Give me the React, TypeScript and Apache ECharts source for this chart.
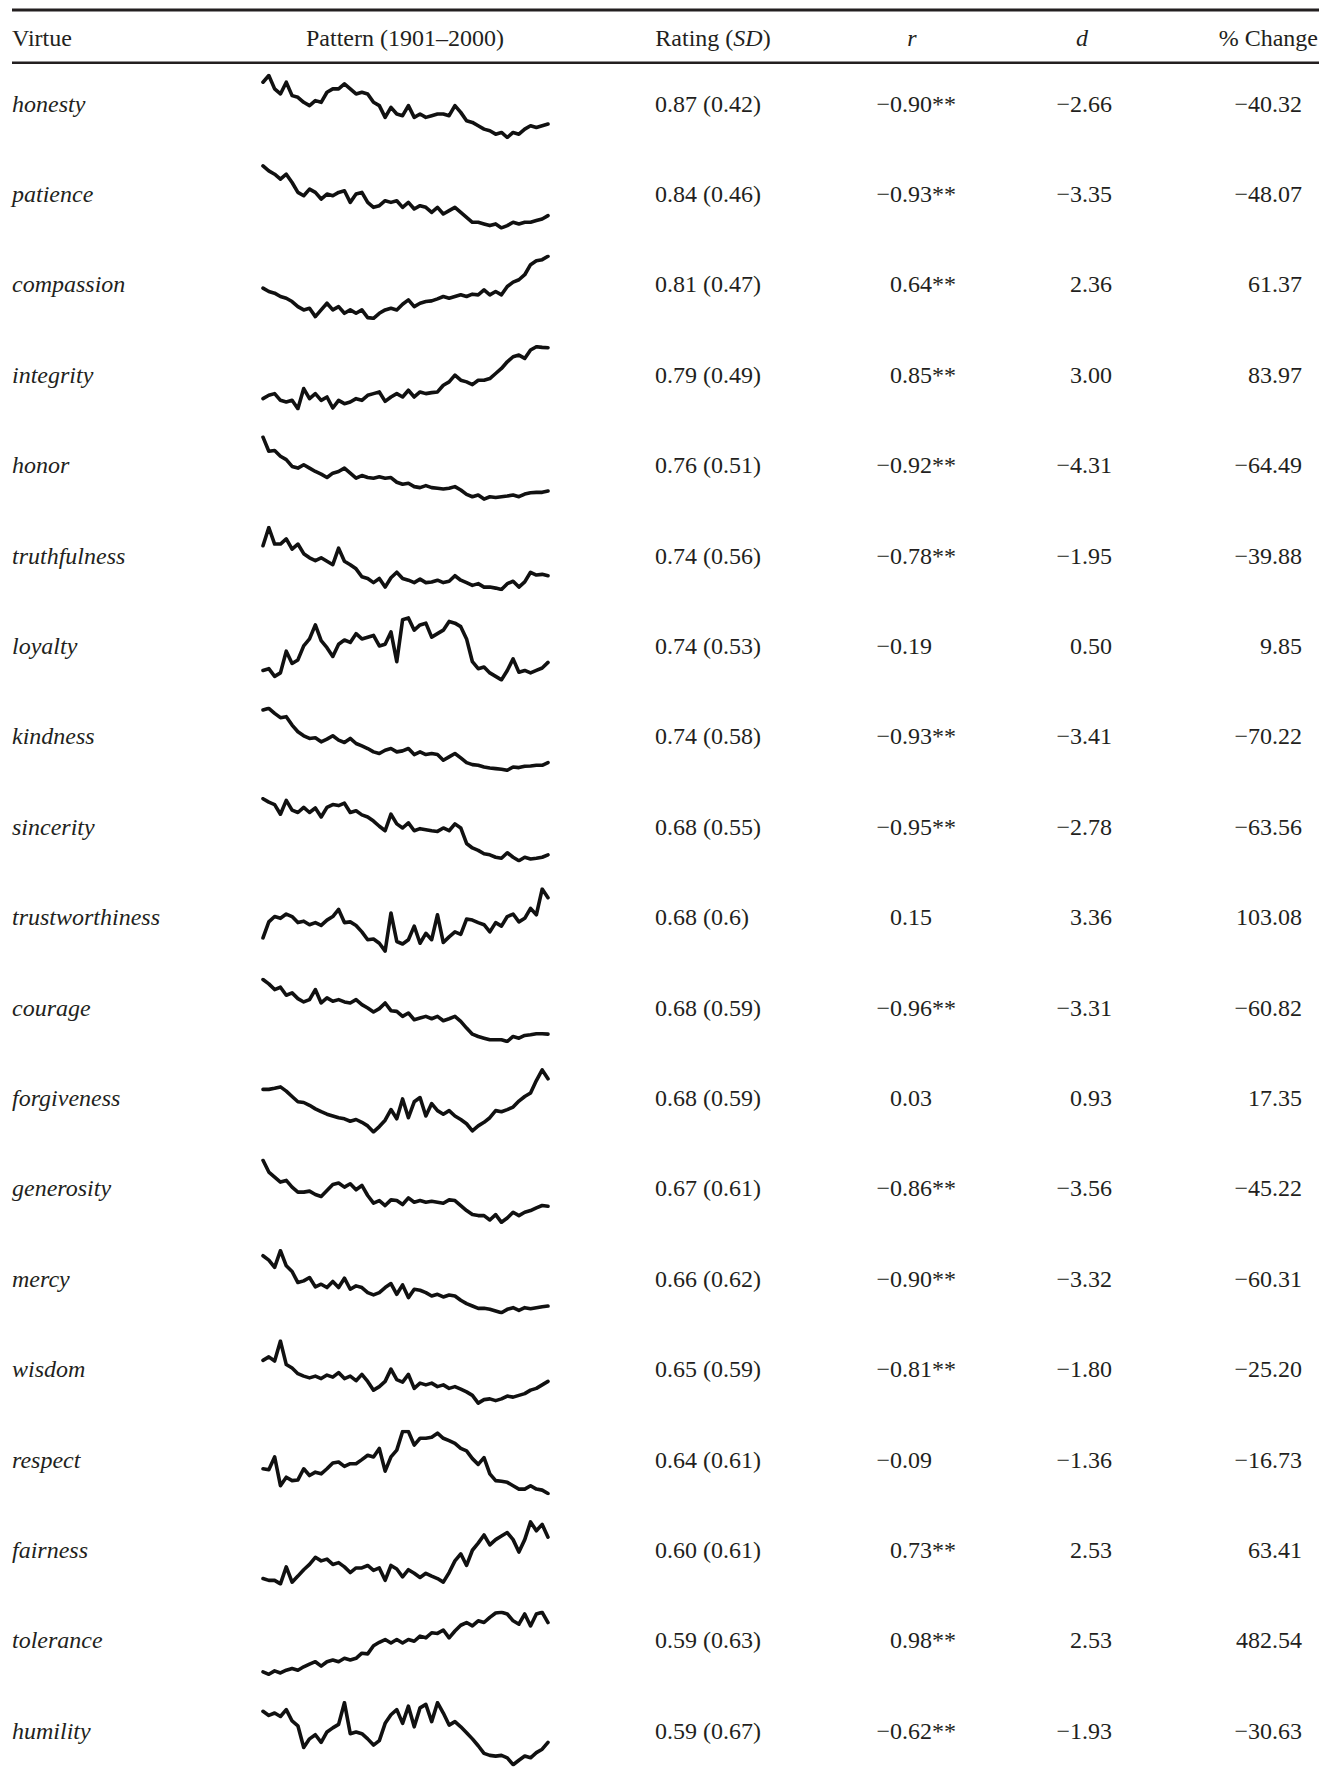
import React, { useEffect, useRef } from "react";
import * as echarts from "echarts";

const virtues = ["honesty", "patience", "compassion", "integrity", "honor", "truthfulness", "loyalty", "kindness", "sincerity", "trustworthiness", "courage", "forgiveness", "generosity", "mercy", "wisdom", "respect", "fairness", "tolerance", "humility"];
const ratingMean = ["0.87", "0.84", "0.81", "0.79", "0.76", "0.74", "0.74", "0.74", "0.68", "0.68", "0.68", "0.68", "0.67", "0.66", "0.65", "0.64", "0.60", "0.59", "0.59"];
const ratingSD = ["0.42", "0.46", "0.47", "0.49", "0.51", "0.56", "0.53", "0.58", "0.55", "0.6", "0.59", "0.59", "0.61", "0.62", "0.59", "0.61", "0.61", "0.63", "0.67"];
const rValues = ["−0.90", "−0.93", "0.64", "0.85", "−0.92", "−0.78", "−0.19", "−0.93", "−0.95", "0.15", "−0.96", "0.03", "−0.86", "−0.90", "−0.81", "−0.09", "0.73", "0.98", "−0.62"];
const rSignificant = [true, true, true, true, true, true, false, true, true, false, true, false, true, true, true, false, true, true, true];
const dValues = ["−2.66", "−3.35", "2.36", "3.00", "−4.31", "−1.95", "0.50", "−3.41", "−2.78", "3.36", "−3.31", "0.93", "−3.56", "−3.32", "−1.80", "−1.36", "2.53", "2.53", "−1.93"];
const pctChange = ["−40.32", "−48.07", "61.37", "83.97", "−64.49", "−39.88", "9.85", "−70.22", "−63.56", "103.08", "−60.82", "17.35", "−45.22", "−60.31", "−25.20", "−16.73", "63.41", "482.54", "−30.63"];

// Sparkline patterns, 1901–2000, read in two-year steps (relative frequency index)
const honestyPattern = [165, 185, 145, 130, 165, 125, 120, 105, 95, 110, 105, 135, 145, 145, 160, 145, 130, 135, 130, 105, 95, 60, 90, 70, 65, 95, 60, 70, 60, 65, 70, 70, 65, 95, 75, 50, 45, 35, 25, 20, 10, 15, 0, 15, 10, 25, 35, 30, 35, 40];
const patiencePattern = [190, 175, 165, 150, 165, 140, 110, 100, 120, 110, 90, 105, 100, 110, 115, 80, 105, 110, 80, 65, 70, 85, 80, 85, 65, 80, 60, 70, 65, 50, 65, 45, 55, 65, 50, 35, 20, 20, 15, 10, 15, 3, 10, 20, 15, 20, 20, 25, 30, 40];
const compassionPattern = [95, 85, 80, 70, 65, 55, 40, 30, 35, 10, 30, 50, 30, 40, 20, 30, 20, 30, 7, 5, 20, 30, 35, 30, 47, 60, 40, 50, 55, 57, 63, 70, 65, 70, 75, 70, 77, 75, 90, 75, 85, 75, 100, 113, 120, 135, 165, 177, 180, 190];
const integrityPattern = [35, 45, 50, 30, 25, 30, 5, 65, 35, 50, 30, 40, 7, 30, 20, 25, 35, 30, 45, 50, 55, 27, 40, 50, 40, 60, 40, 55, 50, 53, 55, 75, 85, 105, 90, 85, 77, 90, 90, 95, 110, 125, 145, 160, 165, 155, 180, 190, 188, 187];
const honorPattern = [187, 145, 147, 130, 120, 100, 95, 105, 95, 85, 77, 67, 80, 85, 95, 80, 65, 73, 67, 65, 69, 65, 67, 53, 47, 50, 40, 37, 43, 37, 35, 33, 35, 40, 30, 17, 10, 15, 3, 10, 8, 10, 12, 15, 10, 18, 22, 23, 23, 27];
const truthfulnessPattern = [130, 183, 135, 135, 150, 120, 135, 107, 95, 87, 95, 85, 75, 123, 85, 75, 63, 40, 35, 23, 35, 10, 37, 53, 35, 30, 23, 33, 23, 25, 30, 23, 27, 43, 30, 23, 15, 20, 10, 10, 7, 3, 20, 27, 10, 25, 53, 45, 47, 43];
const loyaltyPattern = [30, 35, 13, 23, 85, 50, 60, 100, 120, 160, 115, 95, 70, 105, 117, 110, 135, 120, 125, 130, 100, 105, 140, 55, 175, 180, 145, 160, 165, 125, 135, 145, 170, 165, 155, 120, 55, 35, 40, 23, 13, 3, 30, 63, 25, 30, 23, 30, 37, 53];
const kindnessPattern = [180, 185, 170, 157, 160, 135, 115, 103, 95, 97, 85, 93, 103, 90, 83, 95, 80, 73, 65, 55, 50, 60, 65, 55, 58, 65, 47, 55, 47, 50, 47, 30, 40, 50, 37, 23, 17, 15, 10, 7, 5, 3, 0, 10, 8, 12, 13, 15, 15, 23];
const sincerityPattern = [185, 175, 168, 140, 180, 152, 145, 160, 145, 158, 132, 160, 168, 165, 172, 145, 150, 138, 132, 120, 105, 92, 140, 112, 100, 115, 92, 98, 95, 92, 90, 100, 92, 112, 100, 55, 42, 35, 25, 22, 15, 12, 28, 15, 5, 15, 10, 12, 15, 22];
const trustworthinessPattern = [45, 90, 105, 100, 112, 105, 88, 92, 82, 88, 80, 95, 105, 125, 88, 90, 80, 62, 40, 42, 30, 8, 115, 35, 28, 40, 78, 30, 58, 40, 110, 32, 48, 62, 55, 98, 95, 88, 82, 62, 88, 78, 105, 112, 90, 100, 128, 110, 182, 158];
const couragePattern = [185, 172, 155, 162, 138, 145, 128, 118, 125, 155, 115, 130, 120, 125, 118, 115, 125, 110, 100, 88, 98, 115, 92, 90, 75, 85, 65, 70, 75, 68, 75, 62, 68, 75, 60, 40, 22, 15, 10, 5, 5, 5, 0, 15, 10, 18, 20, 23, 23, 22];
const forgivenessPattern = [125, 125, 128, 132, 120, 105, 90, 88, 80, 70, 62, 55, 50, 45, 42, 35, 40, 32, 22, 5, 20, 38, 68, 42, 98, 45, 90, 102, 50, 85, 65, 55, 65, 50, 40, 28, 8, 22, 32, 45, 65, 62, 68, 75, 92, 105, 115, 150, 180, 155];
const generosityPattern = [185, 150, 135, 120, 125, 105, 90, 90, 93, 83, 77, 95, 113, 117, 105, 115, 97, 110, 80, 57, 65, 50, 67, 65, 53, 73, 60, 65, 60, 63, 60, 57, 67, 65, 50, 35, 23, 20, 20, 7, 23, 0, 13, 30, 20, 30, 35, 43, 50, 48];
const mercyPattern = [170, 157, 135, 185, 140, 123, 90, 95, 105, 77, 85, 75, 93, 75, 103, 70, 80, 75, 60, 53, 60, 75, 87, 55, 83, 45, 70, 67, 60, 50, 55, 47, 53, 50, 37, 27, 20, 13, 13, 10, 5, 0, 10, 15, 7, 15, 12, 15, 18, 20];
const wisdomPattern = [125, 135, 123, 180, 113, 103, 87, 80, 75, 80, 73, 83, 77, 90, 73, 80, 67, 85, 65, 40, 50, 65, 100, 70, 63, 85, 45, 60, 55, 60, 50, 55, 45, 50, 43, 35, 25, 3, 13, 15, 10, 15, 23, 20, 25, 30, 40, 45, 55, 65];
const respectPattern = [75, 72, 110, 25, 50, 40, 42, 75, 55, 65, 60, 75, 92, 95, 82, 90, 90, 102, 115, 110, 135, 68, 110, 130, 185, 185, 145, 165, 165, 168, 180, 165, 158, 150, 135, 128, 105, 88, 108, 60, 40, 38, 35, 25, 15, 15, 25, 15, 12, 2];
const fairnessPattern = [25, 20, 20, 10, 58, 15, 32, 50, 65, 85, 75, 80, 65, 70, 58, 42, 55, 55, 62, 48, 55, 20, 62, 52, 30, 50, 40, 28, 40, 32, 25, 15, 42, 75, 95, 62, 105, 125, 148, 120, 135, 145, 155, 135, 100, 135, 185, 160, 178, 142];
const tolerancePattern = [15, 8, 18, 12, 20, 25, 20, 30, 38, 45, 32, 45, 50, 45, 55, 50, 55, 70, 68, 92, 102, 110, 100, 110, 100, 110, 105, 120, 115, 130, 128, 138, 115, 135, 152, 160, 150, 165, 160, 175, 188, 190, 185, 165, 155, 185, 150, 185, 190, 160];
const humilityPattern = [160, 148, 155, 145, 165, 132, 118, 55, 80, 92, 70, 100, 112, 122, 185, 95, 100, 95, 80, 62, 75, 125, 150, 165, 125, 175, 115, 170, 180, 130, 185, 155, 120, 130, 115, 98, 80, 60, 38, 32, 30, 32, 25, 5, 18, 30, 25, 40, 50, 70];

const patterns = [honestyPattern, patiencePattern, compassionPattern, integrityPattern, honorPattern, truthfulnessPattern, loyaltyPattern, kindnessPattern, sincerityPattern, trustworthinessPattern, couragePattern, forgivenessPattern, generosityPattern, mercyPattern, wisdomPattern, respectPattern, fairnessPattern, tolerancePattern, humilityPattern];

const headers = { virtue: "Virtue", pattern: "Pattern (1901–2000)", rating: "Rating ({it|SD})", r: "r", d: "d", pct: "% Change" };

const FONT = "'Liberation Serif', 'Times New Roman', Times, serif";
const INK = "#231f20";

export default function App() {
  const ref = useRef<HTMLDivElement>(null);
  useEffect(() => {
    const chart = echarts.init(ref.current as HTMLDivElement, null, { renderer: "svg" });
    const baseline = (i: number) => 110.5 + 90.4 * i;
    const mid = (b: number) => b - 7;
    const grids: any[] = [];
    const xAxes: any[] = [];
    const yAxes: any[] = [];
    const series: any[] = [];
    patterns.forEach((p, i) => {
      grids.push({ left: 263, width: 285, top: baseline(i) - 35, height: 62 });
      xAxes.push({ type: "category", gridIndex: i, data: p.map((_, k) => String(1901 + 2 * k)), boundaryGap: false, show: false });
      yAxes.push({ type: "value", gridIndex: i, min: "dataMin", max: "dataMax", show: false });
      series.push({
        type: "line",
        xAxisIndex: i,
        yAxisIndex: i,
        data: p,
        symbol: "none",
        silent: true,
        lineStyle: { color: "#111", width: 3.6, join: "round", cap: "round" },
      });
    });

    const txt = (text: string, x: number, y: number, align: string, italic = false, extra: any = {}) => ({
      type: "text",
      x,
      y,
      silent: true,
      style: {
        text,
        fill: INK,
        fontSize: 24,
        fontFamily: FONT,
        fontStyle: italic ? "italic" : "normal",
        align,
        verticalAlign: "middle",
        ...extra,
      },
    });

    const graphics: any[] = [
      { type: "rect", shape: { x: 12, y: 8.5, width: 1307, height: 3 }, style: { fill: INK }, silent: true },
      { type: "rect", shape: { x: 12, y: 61.5, width: 1307, height: 2.5 }, style: { fill: INK }, silent: true },
      txt(headers.virtue, 12, 38, "left"),
      txt(headers.pattern, 405, 38, "center"),
      txt(headers.rating, 713, 38, "center", false, { rich: { it: { fontStyle: "italic", fontSize: 24, fontFamily: FONT, fill: INK } } }),
      txt(headers.r, 912, 38, "center", true),
      txt(headers.d, 1082, 38, "center", true),
      txt(headers.pct, 1318, 38, "right"),
    ];
    virtues.forEach((v, i) => {
      const y = mid(baseline(i));
      graphics.push(txt(v, 12, y, "left", true));
      graphics.push(txt(`${ratingMean[i]} (${ratingSD[i]})`, 655, y, "left"));
      graphics.push(txt(rValues[i], 932, y, "right"));
      if (rSignificant[i]) graphics.push(txt("**", 932, y, "left"));
      graphics.push(txt(dValues[i], 1112, y, "right"));
      graphics.push(txt(pctChange[i], 1302, y, "right"));
    });

    chart.setOption({
      animation: false,
      backgroundColor: "#ffffff",
      grid: grids,
      xAxis: xAxes,
      yAxis: yAxes,
      series,
      graphic: graphics,
    });
    return () => chart.dispose();
  }, []);
  return (
    <div
      ref={ref}
      style={{ position: "absolute", left: 0, top: 0, width: 1334, height: 1775, background: "#fff" }}
    />
  );
}
